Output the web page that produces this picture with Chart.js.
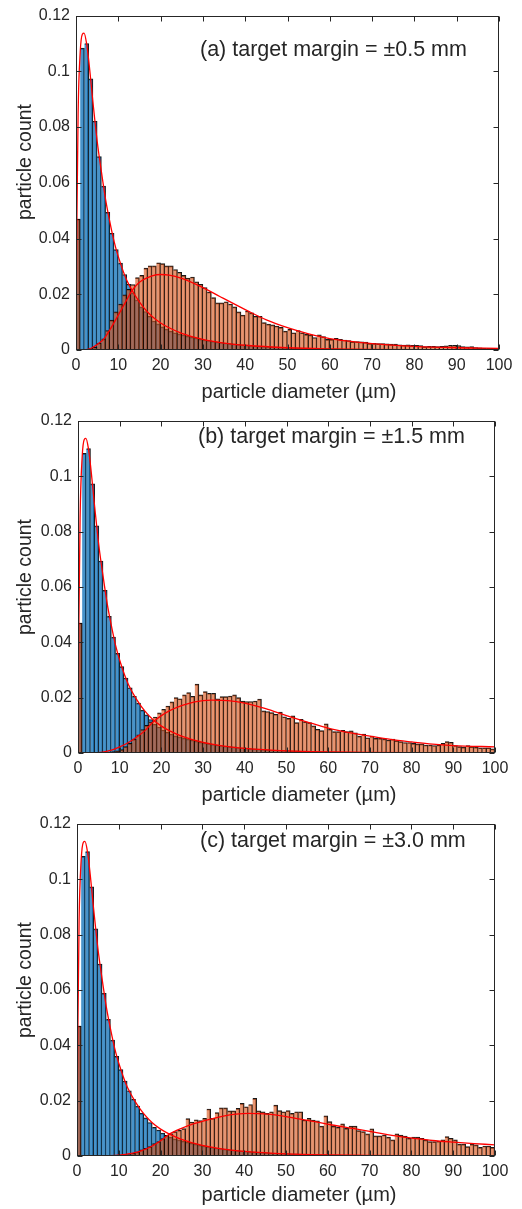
<!DOCTYPE html>
<html>
<head>
<meta charset="utf-8">
<script src="https://cdn.jsdelivr.net/npm/chart.js@4.4.1/dist/chart.umd.min.js"></script>
<style>
  html, body { margin: 0; padding: 0; background: #fff; }
  #wrap { position: relative; width: 522px; height: 1209px; }
  #wrap canvas { position: absolute; left: 0; }
</style>
</head>
<body>
<div id="wrap">
  <canvas id="chartA" width="522" height="403" style="top:0px"></canvas>
  <canvas id="chartB" width="522" height="403" style="top:403px"></canvas>
  <canvas id="chartC" width="522" height="403" style="top:806px"></canvas>
</div>
<script>
// --- data (1 µm bins, 0..100 µm) ---
const xTicks = [0, 10, 20, 30, 40, 50, 60, 70, 80, 90, 100];
const yTicks = [0, 0.02, 0.04, 0.06, 0.08, 0.1, 0.12];

// small-particle population (blue), same in all three panels
const blueCounts = [
  0.047, 0.1083, 0.1100, 0.0973, 0.0821, 0.0694, 0.0588, 0.0494, 0.0419, 0.0360,
  0.0312, 0.0271, 0.0236, 0.0205, 0.0180, 0.0155, 0.0138, 0.0121, 0.0104, 0.0094,
  0.0083, 0.0075, 0.0068, 0.0062, 0.0058, 0.0054, 0.0050, 0.0046, 0.0043, 0.0039,
  0.0036, 0.0034, 0.0031, 0.0029, 0.0027, 0.0025, 0.0023, 0.0022, 0.0020, 0.0019,
  0.0018, 0.0016, 0.0015, 0.0014, 0.0013, 0.0012, 0.0011, 0.0011, 0.0010, 0.0009,
  0.0009, 0.0008, 0.0008, 0.0007, 0.0007, 0.0006, 0.0006, 0.0005, 0.0005, 0.0005,
  0.0004, 0.0004, 0.0004, 0.0003, 0.0003, 0.0003, 0.0003, 0.0003, 0.0002, 0.0002,
  0.0002, 0.0002, 0.0002, 0.0002, 0.0002, 0.0002, 0.0001, 0.0001, 0.0001, 0.0001,
  0.0001, 0.0001, 0.0001, 0.0001, 0.0001, 0.0001, 0.0001, 0.0001, 0.0001, 0.0001,
  0.0001, 0.0001, 0.0001, 0.0001, 0.0001, 0.0001, 0.0001, 0.0001, 0.0001, 0.0001
];

// large-particle population (orange), one per target margin
const orangeCountsA = [
  0.047, 0, 0, 0.0005, 0.0010, 0.0025, 0.0040, 0.0070, 0.0107, 0.0137,
  0.0165, 0.0198, 0.0218, 0.0235, 0.0260, 0.0268, 0.0294, 0.0302, 0.0302, 0.0313,
  0.0310, 0.0302, 0.0302, 0.0289, 0.0279, 0.0268, 0.0258, 0.0262, 0.0245, 0.0236,
  0.0224, 0.0208, 0.0188, 0.0169, 0.0169, 0.0173, 0.0165, 0.0155, 0.0137, 0.0125,
  0.0140, 0.0133, 0.0121, 0.0121, 0.0098, 0.0093, 0.0090, 0.0086, 0.0081, 0.0068,
  0.0074, 0.0062, 0.0070, 0.0062, 0.0056, 0.0054, 0.0045, 0.0054, 0.0048, 0.0038,
  0.0038, 0.0042, 0.0038, 0.0036, 0.0034, 0.0030, 0.0030, 0.0029, 0.0028, 0.0024,
  0.0024, 0.0023, 0.0023, 0.0022, 0.0021, 0.0021, 0.0019, 0.0018, 0.0019, 0.0017,
  0.0017, 0.0016, 0.0012, 0.0013, 0.0013, 0.0012, 0.0013, 0.0015, 0.0017, 0.0017,
  0.0016, 0.0012, 0.0011, 0.0012, 0.0009, 0.0008, 0.0006, 0.0006, 0.0006, 0.0006
];
const orangeCountsB = [
  0.047, 0, 0, 0, 0, 0, 0, 0.0002, 0.0005, 0.0008,
  0.0012, 0.0023, 0.0035, 0.0050, 0.0066, 0.0085, 0.0100, 0.0113, 0.0130, 0.0145,
  0.0158, 0.0170, 0.0185, 0.0200, 0.0196, 0.0210, 0.0218, 0.0205, 0.0249, 0.0210,
  0.0222, 0.0216, 0.0216, 0.0196, 0.0204, 0.0204, 0.0206, 0.0210, 0.0200, 0.0188,
  0.0186, 0.0186, 0.0188, 0.0195, 0.0152, 0.0150, 0.0146, 0.0140, 0.0148, 0.0131,
  0.0125, 0.0134, 0.0110, 0.0122, 0.0113, 0.0110, 0.0098, 0.0086, 0.0081, 0.0105,
  0.0086, 0.0077, 0.0077, 0.0082, 0.0077, 0.0080, 0.0073, 0.0061, 0.0068, 0.0055,
  0.0061, 0.0053, 0.0053, 0.0051, 0.0047, 0.0050, 0.0045, 0.0041, 0.0038, 0.0038,
  0.0035, 0.0033, 0.0033, 0.0029, 0.0029, 0.0027, 0.0029, 0.0035, 0.0041, 0.0039,
  0.0027, 0.0023, 0.0021, 0.0027, 0.0023, 0.0021, 0.0019, 0.0019, 0.0019, 0.0015
];
const orangeCountsC = [
  0.047, 0, 0, 0, 0, 0, 0, 0, 0, 0,
  0.0002, 0.0003, 0.0005, 0.0010, 0.0015, 0.0022, 0.0028, 0.0034, 0.0045, 0.0052,
  0.0063, 0.0075, 0.0081, 0.0088, 0.0093, 0.0099, 0.0135, 0.0123, 0.0131, 0.0128,
  0.0136, 0.0170, 0.0136, 0.0157, 0.0174, 0.0174, 0.0163, 0.0163, 0.0172, 0.0190,
  0.0178, 0.0186, 0.0208, 0.0163, 0.0160, 0.0154, 0.0160, 0.0184, 0.0164, 0.0160,
  0.0164, 0.0154, 0.0160, 0.0160, 0.0130, 0.0136, 0.0130, 0.0127, 0.0108, 0.0145,
  0.0124, 0.0108, 0.0104, 0.0116, 0.0100, 0.0108, 0.0108, 0.0092, 0.0088, 0.0080,
  0.0098, 0.0073, 0.0073, 0.0076, 0.0068, 0.0058, 0.0080, 0.0076, 0.0072, 0.0064,
  0.0068, 0.0068, 0.0064, 0.0058, 0.0052, 0.0052, 0.0054, 0.0058, 0.0070, 0.0064,
  0.0058, 0.0043, 0.0043, 0.0034, 0.0043, 0.0040, 0.0031, 0.0036, 0.0036, 0.0031
];

// fitted curves (red)
const blueFitX = [0, 0.1, 0.2, 0.5, 1, 1.5, 1.9, 2.5, 3, 4, 5, 6, 7, 8, 9, 10, 12, 14, 16, 18, 20, 22, 25, 30, 35, 40, 50, 60, 70, 80, 100];
const blueFitY = [0, 0.02, 0.045, 0.085, 0.107, 0.1133, 0.1137, 0.110, 0.104, 0.089, 0.075, 0.064, 0.054, 0.046, 0.039, 0.0335, 0.025, 0.0195, 0.0152, 0.0120, 0.0097, 0.0080, 0.0060, 0.0038, 0.0025, 0.0017, 0.0008, 0.0004, 0.0002, 0.0001, 0.00003];

const orangeFitAX = [2, 3, 4, 5, 6.5, 8, 10, 12, 13.2, 15, 18, 20, 22, 25, 30, 34, 40, 45, 50, 55, 60, 65, 70, 80, 90, 100];
const orangeFitAY = [0, 0.0003, 0.001, 0.002, 0.0038, 0.0072, 0.0125, 0.018, 0.0212, 0.0243, 0.0266, 0.0271, 0.0269, 0.0257, 0.0224, 0.0192, 0.0145, 0.0108, 0.0080, 0.0058, 0.0041, 0.0031, 0.0023, 0.0013, 0.0008, 0.0006];

const orangeFitBX = [4, 6, 8, 10, 12, 14, 16, 18, 20, 22, 25, 28, 32, 36, 40, 45, 50, 55, 60, 65, 70, 75, 80, 85, 90, 100];
const orangeFitBY = [0, 0.0003, 0.001, 0.0022, 0.0037, 0.0057, 0.0080, 0.0112, 0.0135, 0.0153, 0.0172, 0.0185, 0.0191, 0.0189, 0.0180, 0.0160, 0.0135, 0.0112, 0.0090, 0.0074, 0.0061, 0.0049, 0.0040, 0.0032, 0.0027, 0.0022];

const orangeFitCX = [6, 8, 10, 12, 15, 18, 20, 22, 25, 28, 31, 35, 38, 41, 45, 49, 53, 57, 61, 65, 69, 73, 77, 81, 85, 90, 95, 100];
const orangeFitCY = [0, 0.0001, 0.0003, 0.0007, 0.0017, 0.0036, 0.0055, 0.0078, 0.0100, 0.0117, 0.0130, 0.0144, 0.0151, 0.0154, 0.0152, 0.0145, 0.0134, 0.0124, 0.0112, 0.0102, 0.0092, 0.0081, 0.0071, 0.0063, 0.0056, 0.0050, 0.0045, 0.0040];

const panelNotes = ['(a) target margin = \u00b10.5 mm', '(b) target margin = \u00b11.5 mm', '(c) target margin = \u00b13.0 mm'];
const xTitle = 'particle diameter (\u00b5m)';
const yTitle = 'particle count';

// --- styling ---
const FONT = '"Liberation Sans", Arial, Helvetica, sans-serif';
const TEXT_COLOR = '#262626';
const BLUE_FILL = 'rgba(0, 105, 182, 0.72)';
const ORANGE_FILL = 'rgba(217, 83, 25, 0.62)';
const EDGE = 'rgba(0, 0, 0, 0.9)';
const FIT_RED = 'rgb(255, 0, 0)';
const CANVAS_H = 403;

// box, inward tick marks and free text like the MATLAB axes
const matlabAxes = {
  id: 'matlabAxes',
  afterDatasetsDraw(chart, args, opts) {
    const { ctx, chartArea: a, scales } = chart;
    const L = Math.round(a.left) + 0.5, R = Math.round(a.right) - 0.5;
    const T = Math.round(a.top) + 0.5, B = Math.round(a.bottom) - 0.5;
    ctx.save();
    ctx.strokeStyle = TEXT_COLOR;
    ctx.lineWidth = 1;
    ctx.strokeRect(L, T, R - L, B - T);
    ctx.beginPath();
    xTicks.forEach((v) => {
      const px = Math.round(scales.x.getPixelForValue(v)) + 0.5;
      ctx.moveTo(px, B); ctx.lineTo(px, B - 5);
      ctx.moveTo(px, T); ctx.lineTo(px, T + 5);
    });
    yTicks.forEach((v) => {
      const py = Math.round(scales.y.getPixelForValue(v)) + 0.5;
      ctx.moveTo(L, py); ctx.lineTo(L + 5, py);
      ctx.moveTo(R, py); ctx.lineTo(R - 5, py);
    });
    ctx.stroke();

    ctx.fillStyle = TEXT_COLOR;
    ctx.textBaseline = 'middle';
    ctx.font = `21.5px ${FONT}`;
    ctx.textAlign = 'left';
    ctx.fillText(opts.note, opts.noteX, opts.noteY);

    ctx.font = `20px ${FONT}`;
    ctx.textAlign = 'center';
    ctx.fillText(xTitle, opts.xTitleX, opts.xTitleY);

    ctx.translate(opts.yTitleX, opts.yTitleY);
    ctx.rotate(-Math.PI / 2);
    ctx.font = `19.5px ${FONT}`;
    ctx.fillText(yTitle, 0, 0);
    ctx.restore();
  },
};

const toBins = (counts) => counts.map((v, i) => ({ x: i + 0.5, y: v }));
const toPoints = (xs, ys) => xs.map((x, i) => ({ x, y: ys[i] }));

function barSet(counts, fill, order) {
  return {
    type: 'bar',
    data: toBins(counts),
    backgroundColor: fill,
    borderColor: EDGE,
    borderWidth: { top: 1, right: 1, left: 0, bottom: 0 },
    barPercentage: 1,
    categoryPercentage: 1,
    grouped: false,
    order: order,
  };
}

function fitSet(xs, ys) {
  return {
    type: 'line',
    data: toPoints(xs, ys),
    borderColor: FIT_RED,
    borderWidth: 1.3,
    pointRadius: 0,
    fill: false,
    cubicInterpolationMode: 'monotone',
    order: 1,
  };
}

function makePanel(canvasId, orangeCounts, fitX, fitY, box, text) {
  const ctx = document.getElementById(canvasId).getContext('2d');
  return new Chart(ctx, {
    type: 'bar',
    data: {
      datasets: [
        fitSet(blueFitX, blueFitY),
        fitSet(fitX, fitY),
        barSet(orangeCounts, ORANGE_FILL, 2),
        barSet(blueCounts, BLUE_FILL, 3),
      ],
    },
    options: {
      responsive: false,
      animation: false,
      devicePixelRatio: 1,
      events: [],
      layout: { padding: { top: box.top, right: 522 - box.right, bottom: 0, left: 0 } },
      scales: {
        x: {
          type: 'linear',
          min: 0,
          max: 100,
          offset: false,
          grid: { display: false, drawTicks: false },
          border: { display: false },
          afterBuildTicks: (s) => { s.ticks = xTicks.map((v) => ({ value: v })); },
          afterFit: (s) => { s.height = CANVAS_H - box.bottom; },
          ticks: {
            autoSkip: false,
            maxRotation: 0,
            padding: 6,
            color: TEXT_COLOR,
            font: { family: FONT, size: 16 },
            callback: (v) => String(v),
          },
        },
        y: {
          min: 0,
          max: 0.12,
          grid: { display: false, drawTicks: false },
          border: { display: false },
          afterBuildTicks: (s) => { s.ticks = yTicks.map((v) => ({ value: v })); },
          afterFit: (s) => { s.width = box.left; },
          ticks: {
            autoSkip: false,
            padding: 6,
            color: TEXT_COLOR,
            font: { family: FONT, size: 16 },
            callback: (v) => String(Number(v.toFixed(2))),
          },
        },
      },
      plugins: {
        legend: { display: false },
        tooltip: { enabled: false },
        matlabAxes: text,
      },
    },
    plugins: [matlabAxes],
  });
}

makePanel('chartA', orangeCountsA, orangeFitAX, orangeFitAY,
  { top: 14, bottom: 350, left: 76, right: 499 },
  { note: panelNotes[0], noteX: 200, noteY: 50, xTitleX: 299, xTitleY: 392, yTitleX: 26, yTitleY: 162 });

makePanel('chartB', orangeCountsB, orangeFitBX, orangeFitBY,
  { top: 18, bottom: 350, left: 78, right: 495 },
  { note: panelNotes[1], noteX: 198, noteY: 34, xTitleX: 299, xTitleY: 392, yTitleX: 26, yTitleY: 174 });

makePanel('chartC', orangeCountsC, orangeFitCX, orangeFitCY,
  { top: 18, bottom: 350, left: 77, right: 495 },
  { note: panelNotes[2], noteX: 200, noteY: 35, xTitleX: 299, xTitleY: 389, yTitleX: 26, yTitleY: 174 });
</script>
</body>
</html>
